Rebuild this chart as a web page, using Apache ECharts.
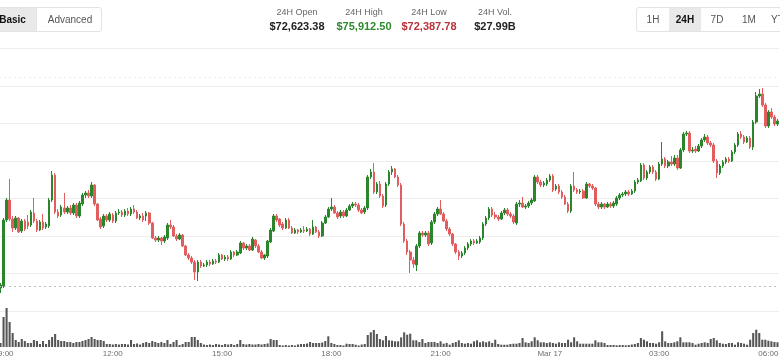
<!DOCTYPE html>
<html><head><meta charset="utf-8">
<script src="https://cdn.jsdelivr.net/npm/echarts@6/dist/echarts.min.js"></script>
<style>
html,body{margin:0;padding:0;background:#fff;width:780px;height:360px;overflow:hidden;font-family:'Liberation Sans',Arial,Helvetica,sans-serif;}
#chart{position:absolute;left:0;top:0;width:780px;height:360px;}
.grp{position:absolute;top:7px;height:25px;border:1px solid #e3e3e3;border-radius:3px;display:flex;box-sizing:border-box;overflow:hidden;background:#fff}
.btn{height:23px;line-height:23px;text-align:center;font-size:10px;color:#555;flex:none}
.btn.on{background:#e9e9e9;color:#111;font-weight:bold}
.stat{position:absolute;width:90px;text-align:center;top:0}
.stat .l{font-size:9px;color:#666;position:absolute;top:7px;width:100%}
.stat .v{font-size:11px;font-weight:bold;color:#222;position:absolute;top:20px;width:100%}
</style></head>
<body>
<div id="chart"></div>
<div class="grp" style="left:-12px;width:114px">
  <div class="btn on" style="width:47px">Basic</div>
  <div class="btn" style="width:66px;border-left:1px solid #e3e3e3">Advanced</div>
</div>
<div class="stat" style="left:252px"><div class="l">24H Open</div><div class="v" id="sOpen"></div></div>
<div class="stat" style="left:319px"><div class="l">24H High</div><div class="v" id="sHigh" style="color:#2f8a2f"></div></div>
<div class="stat" style="left:384px"><div class="l">24H Low</div><div class="v" id="sLow" style="color:#b8323a"></div></div>
<div class="stat" style="left:450px"><div class="l">24H Vol.</div><div class="v" id="sVol"></div></div>
<div class="grp" style="left:636px;width:170px">
  <div class="btn" style="width:32px">1H</div>
  <div class="btn on" style="width:32px">24H</div>
  <div class="btn" style="width:32px">7D</div>
  <div class="btn" style="width:32px">1M</div>
  <div class="btn" style="width:32px">YTD</div>
</div>
<script>
// header statistics
const statLabels = ['24H Open', '24H High', '24H Low', '24H Vol.'];
const statValues = ['$72,623.38', '$75,912.50', '$72,387.78', '$27.99B'];

// x-axis tick labels (3-hour marks)
const tickTimes = ['09:00', '12:00', '15:00', '18:00', '21:00', '00:00', '03:00', '06:00'];
const tickTexts = ['09:00', '12:00', '15:00', '18:00', '21:00', 'Mar 17', '03:00', '06:00'];

// reference price lines
const openRefPrice = 72400;
const upperRefPrice = 75744;

// 5-minute candles from 08:55: [open, close, low, high]
const candles = [
[72368,72416,72288,72448],[72400,73456,72368,73488],[73456,73776,73424,73808],[73776,73472,73440,74112],[73472,73328,73264,73520],
[73328,73488,73296,73520],[73488,73264,73248,73504],[73280,73440,73248,73472],[73440,73312,73280,73472],[73424,73360,73312,73536],
[73376,73584,73344,73616],[73568,73440,73408,73808],[73440,73296,73264,73472],[73296,73424,73280,73456],[73424,73328,73296,73552],
[73344,73392,73312,73424],[73360,73776,73328,73808],[73776,74176,73744,74240],[74176,73584,73552,74208],[73584,73520,73488,73632],
[73536,73664,73504,73696],[73648,73584,73552,73888],[73584,73648,73552,73680],[73648,73568,73536,73696],[73568,73696,73536,73728],
[73696,73520,73488,73728],[73520,73728,73488,73760],[73712,73856,73680,73888],[73856,73888,73808,73920],[73888,73840,73808,73936],
[73840,74016,73808,74064],[74016,73712,73680,74032],[73712,73456,73440,73728],[73472,73344,73312,73504],[73360,73520,73328,73552],
[73520,73456,73424,73552],[73456,73552,73424,73584],[73536,73440,73408,73568],[73440,73568,73408,73600],[73568,73584,73536,73632],
[73584,73536,73504,73616],[73536,73600,73504,73632],[73600,73552,73520,73648],[73552,73632,73520,73664],[73632,73584,73552,73696],
[73584,73488,73472,73616],[73488,73520,73456,73552],[73520,73456,73424,73568],[73520,73568,73440,73600],[73568,73408,73376,73584],
[73408,73168,73152,73424],[73168,73136,73104,73200],[73136,73168,73104,73200],[73168,73120,73056,73184],[73120,73184,73088,73216],
[73168,73376,73136,73408],[73376,73344,73312,73456],[73344,73200,73184,73376],[73200,73152,73120,73232],[73152,73216,73136,73248],
[73216,73040,73024,73232],[73040,72896,72880,73056],[72896,72848,72816,72928],[72848,72784,72752,72880],[72784,72624,72496,72816],
[72624,72784,72480,72816],[72784,72720,72688,72816],[72720,72736,72704,72768],[72736,72784,72704,72816],[72784,72752,72720,72816],
[72752,72800,72736,72832],[72800,72784,72752,72832],[72784,72896,72768,72928],[72896,72832,72816,72912],[72832,72864,72800,72896],
[72864,72832,72800,72896],[72832,72944,72816,72976],[72944,72896,72864,72960],[72896,72944,72880,72976],[72928,73088,72912,73120],
[73088,73008,72976,73104],[73008,73040,72976,73072],[73040,72976,72960,73072],[72976,73152,72960,73184],[73136,73040,73008,73152],
[73040,72944,72928,73072],[72944,72848,72832,72976],[72848,72896,72816,72912],[72880,73120,72848,73136],[73104,73296,73088,73328],
[73280,73520,73264,73552],[73520,73456,73424,73552],[73472,73376,73344,73488],[73392,73328,73296,73424],[73328,73456,73312,73488],
[73456,73328,73312,73488],[73328,73248,73232,73360],[73248,73296,73232,73328],[73296,73264,73232,73312],[73264,73296,73248,73328],
[73296,73280,73248,73360],[73280,73312,73264,73344],[73312,73232,73200,73328],[73232,73344,73216,73456],[73344,73264,73248,73360],
[73264,73200,73168,73296],[73200,73408,73184,73440],[73408,73504,73392,73536],[73504,73632,73488,73664],[73632,73664,73600,73808],
[73664,73568,73552,73696],[73568,73504,73472,73600],[73520,73584,73488,73616],[73584,73520,73488,73616],[73520,73616,73504,73648],
[73616,73680,73600,73712],[73680,73712,73648,73744],[73712,73696,73664,73744],[73696,73616,73584,73728],[73616,73568,73552,73648],
[73584,73648,73552,73680],[73648,74144,73616,74176],[74144,74224,74112,74272],[74224,73904,73872,74368],[73904,74032,73872,74064],
[74032,73840,73808,74080],[73840,73680,73648,73872],[73696,74032,73664,74064],[74032,74224,74000,74256],[74224,74272,74176,74320],
[74272,74144,74128,74288],[74144,74016,73984,74176],[74016,73392,73360,74048],[73392,73120,73088,73424],[73120,72944,72896,73152],
[72944,72816,72608,72976],[72816,72752,72688,72864],[72736,73040,72640,73072],[73040,73248,73008,73280],[73248,73216,73184,73280],
[73216,73248,73184,73280],[73248,73072,73040,73280],[73088,73424,73056,73456],[73424,73552,73392,73584],[73552,73632,73520,73664],
[73632,73552,73536,73776],[73552,73440,73424,73584],[73440,73312,73280,73472],[73312,73232,73200,73344],[73232,73072,73040,73248],
[73072,72944,72912,73088],[72944,72880,72816,72976],[72880,72928,72848,72960],[72928,73008,72896,73040],[73008,73072,72976,73104],
[73072,73120,73040,73152],[73120,73088,73056,73152],[73088,73120,73072,73152],[73104,73168,73072,73200],[73168,73392,73136,73424],
[73392,73488,73360,73520],[73488,73632,73456,73664],[73632,73536,73504,73664],[73536,73504,73472,73584],[73504,73472,73440,73536],
[73472,73568,73456,73600],[73568,73616,73536,73648],[73616,73552,73520,73648],[73552,73520,73488,73584],[73520,73424,73392,73552],
[73408,73712,73376,73744],[73712,73728,73664,73776],[73728,73664,73648,73824],[73664,73680,73632,73712],[73680,73728,73648,73760],
[73728,73776,73696,73808],[73760,74144,73744,74176],[74144,74064,74032,74176],[74064,74016,73984,74096],[74016,74048,73984,74080],
[74032,74096,74000,74128],[74096,74160,74064,74192],[74160,73936,73904,74192],[73952,74000,73920,74032],[74000,73904,73872,74032],
[73904,73824,73792,73936],[73824,73712,73696,73856],[73712,73600,73568,73744],[73600,74000,73568,74032],[74000,73936,73904,74224],
[73936,73904,73872,73968],[73904,73920,73872,73952],[73920,73808,73792,73952],[73808,74032,73792,74064],[74032,74000,73968,74048],
[74000,73968,73936,74032],[73968,73712,73680,73984],[73712,73664,73632,73744],[73664,73712,73632,73744],[73712,73664,73632,73728],
[73664,73712,73648,73744],[73712,73680,73648,73744],[73680,73728,73648,73760],[73712,73808,73680,73840],[73808,73856,73776,73888],
[73856,73872,73824,73904],[73872,73904,73840,73936],[73904,73872,73840,73936],[73872,73920,73856,73952],[73920,74064,73888,74096],
[74064,74096,74032,74128],[74080,74336,74064,74368],[74336,74128,74096,74368],[74128,74224,74096,74256],[74224,74304,74192,74336],
[74304,74224,74192,74336],[74224,74112,74080,74256],[74112,74352,74096,74384],[74352,74432,74320,74704],[74432,74320,74288,74464],
[74320,74384,74288,74416],[74384,74352,74320,74480],[74352,74448,74320,74496],[74448,74288,74256,74496],[74288,74576,74272,74608],
[74576,74832,74544,74864],[74832,74848,74800,74880],[74848,74560,74528,74880],[74560,74576,74528,74624],[74592,74560,74528,74640],
[74560,74640,74544,74672],[74640,74736,74608,74768],[74736,74784,74704,74832],[74784,74688,74656,74816],[74688,74656,74624,74720],
[74656,74400,74368,74688],[74400,74208,74128,74432],[74208,74320,74176,74352],[74320,74384,74288,74416],[74384,74432,74352,74464],
[74432,74400,74368,74464],[74400,74544,74384,74576],[74544,74656,74512,74688],[74656,74832,74624,74864],[74832,74784,74752,74880],
[74784,74704,74672,74816],[74704,74768,74688,74800],[74768,74624,74592,74800],[74624,75024,74576,75056],[75024,75440,74992,75504],
[75440,75472,75408,75552],[75472,75296,75264,75568],[75296,74960,74928,75328],[74960,75184,74928,75216],[75184,75104,75072,75248],
[75104,74992,74960,75136],[74992,75040,74960,75072]
];

// 5-minute volumes (BTC)
const volumes = [
40,300,390,250,140,70,50,80,60,40,
40,70,60,30,60,30,70,100,130,70,
60,60,50,50,40,50,50,60,70,80,
100,80,70,70,60,30,30,25,30,25,
30,30,25,70,30,35,25,40,50,40,
60,50,40,50,40,70,30,50,70,20,
30,50,50,100,100,70,40,25,20,25,
20,30,25,20,30,25,30,20,30,70,
30,25,30,25,25,30,25,30,35,80,
70,70,20,15,20,15,20,15,25,30,
30,35,50,40,40,40,45,60,107,40,
30,20,20,15,33,30,30,23,15,25,
30,120,147,170,130,80,67,110,67,63,
57,57,97,147,123,133,67,67,50,80,
40,50,50,50,40,57,33,40,23,40,
50,67,40,33,40,33,57,67,47,57,
47,57,40,73,30,23,23,23,30,33,
33,40,90,47,40,57,97,67,47,47,
40,47,40,33,47,40,40,73,47,97,
57,33,33,33,33,33,67,47,47,40,
20,20,20,17,20,20,17,20,25,30,
40,90,73,57,40,40,33,47,157,57,
40,40,47,57,97,47,47,47,40,23,
33,40,47,40,80,90,67,40,33,30,
40,40,23,47,40,33,23,73,140,173,
140,73,73,63,57,50,47
];

document.getElementById('sOpen').textContent = statValues[0];
document.getElementById('sHigh').textContent = statValues[1];
document.getElementById('sLow').textContent = statValues[2];
document.getElementById('sVol').textContent = statValues[3];

const pad = n => (n < 10 ? '0' : '') + n;
const startMinute = 8 * 60 + 55;
const categories = candles.map((_, i) => {
  const m = (startMinute + i * 5) % 1440;
  return pad(Math.floor(m / 60)) + ':' + pad(m % 60);
});

const chart = echarts.init(document.getElementById('chart'), null, {renderer: 'canvas'});
chart.setOption({
  animation: false,
  backgroundColor: '#fff',
  grid: [
    {left: -1, right: 1, top: 48.5, height: 262.5, containLabel: false, outerBoundsMode: 'none'},
    {left: -1, right: 1, top: 297, height: 50, containLabel: false, outerBoundsMode: 'none'}
  ],
  xAxis: [
    {type: 'category', gridIndex: 0, data: categories, boundaryGap: true,
     axisLine: {show: false}, axisTick: {show: false}, axisLabel: {show: false}, splitLine: {show: false}},
    {type: 'category', gridIndex: 1, data: categories, boundaryGap: true,
     axisLine: {show: false}, axisTick: {show: false}, splitLine: {show: false},
     axisLabel: {
       color: '#6e6e6e', fontSize: 8, margin: 3, hideOverlap: false,
       fontFamily: "'Liberation Sans', Arial, sans-serif",
       interval: (idx, val) => tickTimes.indexOf(val) >= 0,
       formatter: (val) => { const k = tickTimes.indexOf(val); return k >= 0 ? tickTexts[k] : ''; }
     }}
  ],
  yAxis: [
    {type: 'value', gridIndex: 0, min: 72000, max: 76200, interval: 600,
     axisLine: {show: false}, axisTick: {show: false}, axisLabel: {show: false},
     splitLine: {show: true, lineStyle: {color: '#ededed', width: 1}}},
    {type: 'value', gridIndex: 1, min: 0, max: 500,
     axisLine: {show: false}, axisTick: {show: false}, axisLabel: {show: false}, splitLine: {show: false}}
  ],
  series: [
    {
      type: 'candlestick', xAxisIndex: 0, yAxisIndex: 0, data: candles,
      barWidth: '68%',
      itemStyle: {color: '#2b862b', color0: '#e25e5e', borderColor: '#2b862b', borderColor0: '#e25e5e', borderWidth: 1},
      markLine: {
        silent: true, symbol: 'none', label: {show: false},
        data: [
          {yAxis: openRefPrice, lineStyle: {type: [2, 3], color: '#bdbdbd', width: 1}},
          {yAxis: upperRefPrice, lineStyle: {type: [2, 3], color: '#ececec', width: 1}}
        ]
      }
    },
    {
      type: 'bar', xAxisIndex: 1, yAxisIndex: 1, data: volumes,
      barWidth: '68%', itemStyle: {color: '#555555'}
    }
  ]
});
</script>
</body></html>
